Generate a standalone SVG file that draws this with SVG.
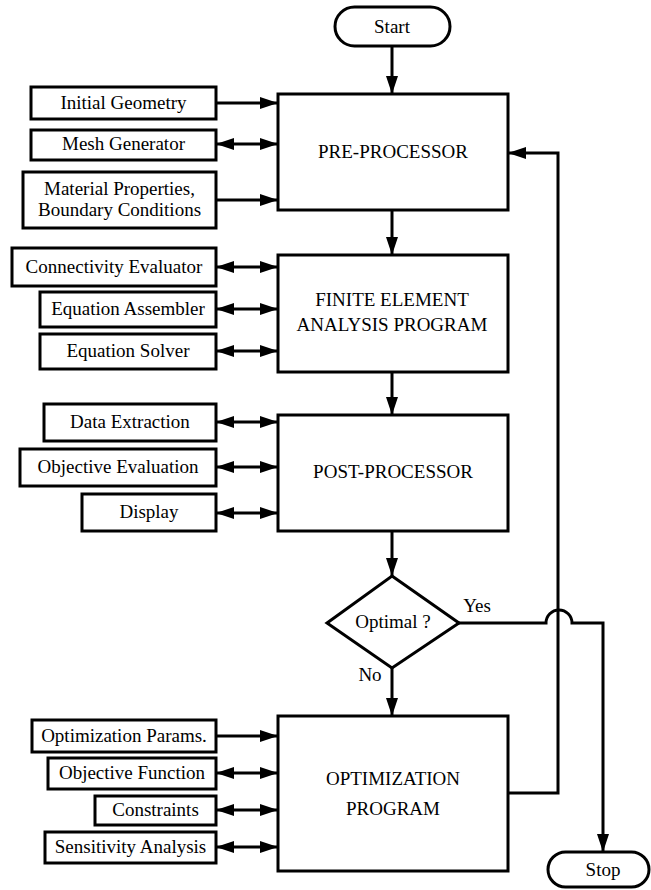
<svg xmlns="http://www.w3.org/2000/svg" width="651" height="890" viewBox="0 0 651 890">
<style>
.b{fill:#fff;stroke:#000;stroke-width:3}
.t{font-family:"Liberation Serif","Times New Roman",serif;font-size:19px;fill:#000;text-anchor:middle}
.c{fill:none;stroke:#000;stroke-width:3}
.a{marker-end:url(#ah)}
.d{marker-start:url(#ah);marker-end:url(#ah)}
</style>
<defs>
<marker id="ah" markerUnits="userSpaceOnUse" markerWidth="18" markerHeight="12" refX="18" refY="6" orient="auto-start-reverse">
<path d="M0,0 L18,6 L0,12 z" fill="#000"/>
</marker>
</defs>
<rect width="651" height="890" fill="#fff"/>
<g id="connectors">
<line class="c a" x1="392" y1="46" x2="392" y2="94"/>
<line class="c a" x1="216" y1="103" x2="278" y2="103"/>
<line class="c d" x1="216" y1="144" x2="278" y2="144"/>
<line class="c a" x1="216" y1="200" x2="278" y2="200"/>
<line class="c a" x1="392" y1="210" x2="392" y2="255"/>
<line class="c d" x1="216" y1="267" x2="278" y2="267"/>
<line class="c d" x1="216" y1="309" x2="278" y2="309"/>
<line class="c d" x1="216" y1="351" x2="278" y2="351"/>
<line class="c a" x1="392" y1="372" x2="392" y2="415"/>
<line class="c d" x1="216" y1="422" x2="278" y2="422"/>
<line class="c d" x1="216" y1="467" x2="278" y2="467"/>
<line class="c d" x1="216" y1="513" x2="278" y2="513"/>
<line class="c a" x1="392" y1="531" x2="392" y2="576"/>
<line class="c a" x1="392" y1="668" x2="392" y2="716"/>
<line class="c a" x1="216" y1="736" x2="278" y2="736"/>
<line class="c d" x1="216" y1="773" x2="278" y2="773"/>
<line class="c d" x1="216" y1="810" x2="278" y2="810"/>
<line class="c d" x1="216" y1="847" x2="278" y2="847"/>
<path class="c a" d="M508,793 H558 V153 H508"/>
<path class="c a" d="M459,623 H546 A13,13 0 0,1 572,623 H603 V852"/>
<text class="t" x="477" y="612">Yes</text>
<text class="t" x="370" y="681">No</text>
</g>
<g id="start"><rect class="b" x="335" y="7" width="115" height="39" rx="19.5"/><text class="t" x="392" y="33">Start</text></g>
<g id="pre"><rect class="b" x="278" y="94" width="230" height="116"/><text class="t" x="393" y="158">PRE-PROCESSOR</text></g>
<g id="initgeom"><rect class="b" x="31" y="87" width="185" height="32"/><text class="t" x="123.5" y="109">Initial Geometry</text></g>
<g id="mesh"><rect class="b" x="31" y="130" width="185" height="30"/><text class="t" x="123.5" y="150">Mesh Generator</text></g>
<g id="material"><rect class="b" x="23" y="172" width="193" height="56"/><text class="t" x="119.5" y="195">Material Properties,</text><text class="t" x="119.5" y="216">Boundary Conditions</text></g>
<g id="fea"><rect class="b" x="278" y="255" width="230" height="117"/><text class="t" x="392" y="306">FINITE ELEMENT</text><text class="t" x="392" y="331">ANALYSIS PROGRAM</text></g>
<g id="connectivity"><rect class="b" x="12" y="248" width="204" height="38"/><text class="t" x="114" y="273">Connectivity Evaluator</text></g>
<g id="assembler"><rect class="b" x="40" y="292" width="176" height="35"/><text class="t" x="128" y="315">Equation Assembler</text></g>
<g id="solver"><rect class="b" x="40" y="334" width="176" height="35"/><text class="t" x="128" y="357">Equation Solver</text></g>
<g id="post"><rect class="b" x="278" y="415" width="230" height="116"/><text class="t" x="393" y="478">POST-PROCESSOR</text></g>
<g id="extraction"><rect class="b" x="44" y="404" width="172" height="37"/><text class="t" x="130" y="428">Data Extraction</text></g>
<g id="objeval"><rect class="b" x="20" y="449" width="196" height="37"/><text class="t" x="118" y="473">Objective Evaluation</text></g>
<g id="display"><rect class="b" x="82" y="494" width="134" height="37"/><text class="t" x="149" y="518">Display</text></g>
<g id="optimal"><polygon class="b" points="392,576 459,623 392,668 327,623"/><text class="t" x="393" y="628">Optimal ?</text></g>
<g id="opt"><rect class="b" x="278" y="716" width="230" height="155"/><text class="t" x="393" y="785">OPTIMIZATION</text><text class="t" x="393" y="815">PROGRAM</text></g>
<g id="params"><rect class="b" x="32" y="720" width="184" height="32"/><text class="t" x="124" y="742">Optimization Params.</text></g>
<g id="objfunc"><rect class="b" x="48" y="758" width="168" height="31"/><text class="t" x="132" y="779">Objective Function</text></g>
<g id="constraints"><rect class="b" x="95" y="796" width="121" height="29"/><text class="t" x="155.5" y="816">Constraints</text></g>
<g id="sensitivity"><rect class="b" x="45" y="832" width="171" height="31"/><text class="t" x="130.5" y="853">Sensitivity Analysis</text></g>
<g id="stop"><rect class="b" x="548" y="852" width="101" height="35" rx="17.5"/><text class="t" x="603" y="876">Stop</text></g>
</svg>
